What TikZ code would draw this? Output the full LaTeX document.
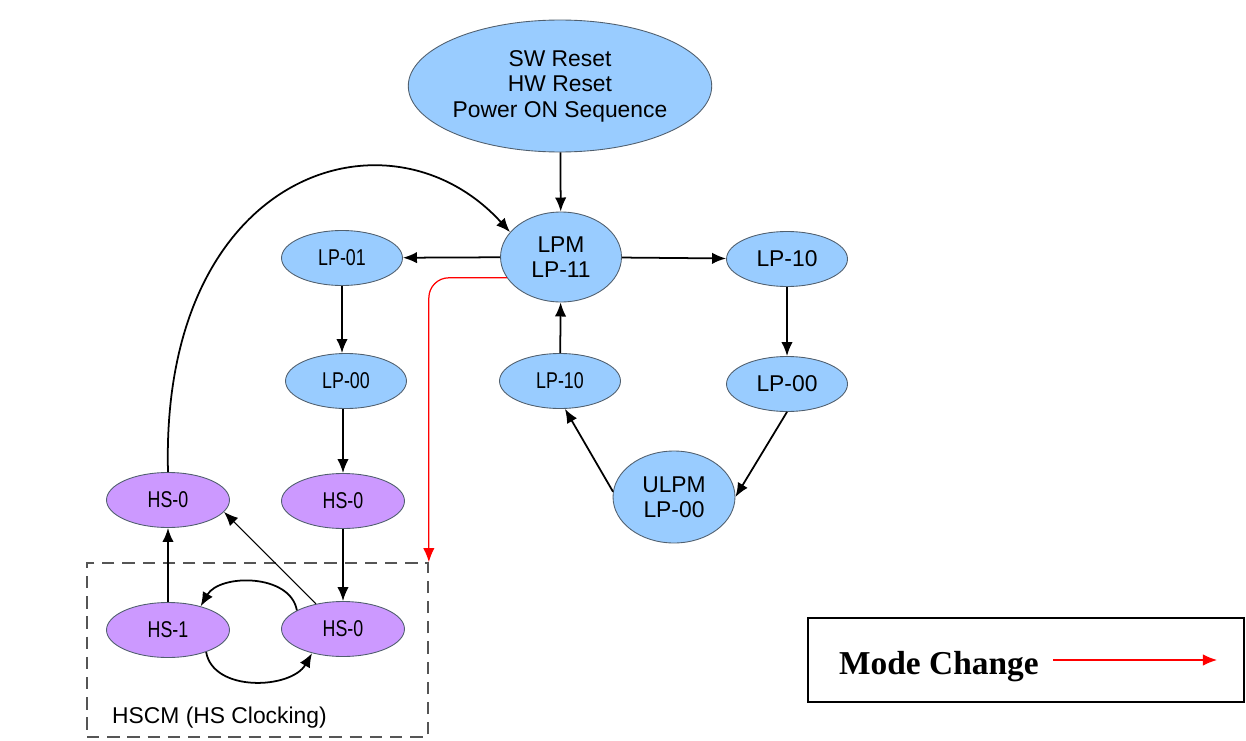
\documentclass[tikz,border=0pt]{standalone}
\usepackage{fontspec}
\setmainfont{Liberation Sans}
\newfontfamily\narrowfont{Liberation Sans}[FakeStretch=0.78]
\newfontfamily\legendfont{Liberation Serif}
\usetikzlibrary{shapes.geometric,arrows.meta}
\definecolor{lpblue}{RGB}{153,204,255}
\definecolor{hspurple}{RGB}{204,153,255}
\definecolor{rimgray}{RGB}{80,95,110}
\definecolor{boxgray}{RGB}{85,85,85}

\begin{document}
\begin{tikzpicture}[x=0.02cm,y=-0.02cm,>={Latex[length=8pt,width=6.5pt]},
        every node/.style={font=\fontsize{13}{14.5}\selectfont},
        lp/.style={ellipse,draw=rimgray,fill=lpblue,line width=0.5pt,inner sep=0pt,minimum width=2.42cm,minimum height=1.1cm},
        hs/.style={lp,fill=hspurple,minimum width=2.46cm},
        narrow/.style={font=\fontsize{13}{14.5}\narrowfont},
        link/.style={->,line width=1pt},
        modechange/.style={->,red,line width=0.7pt}]
    \useasboundingbox (0,0) rectangle (1246,740);

    \node [lp,minimum width=5.5cm,minimum height=2.64cm,align=center] (reset) at (560,86) {SW Reset\\HW Reset\\Power ON Sequence};
    \node [lp,minimum height=1.8cm,align=center] (lpm) at (561,257) {LPM\\LP-11};
    \node [lp,narrow] (lp01) at (342,258) {LP-01};
    \node [lp] (lp10r) at (787,259) {LP-10};
    \node [lp,narrow] (lp00l) at (346,381) {LP-00};
    \node [lp,narrow] (lp10m) at (560,381) {LP-10};
    \node [lp] (lp00r) at (787,384) {LP-00};
    \node [lp,minimum width=2.44cm,minimum height=1.84cm,align=center] (ulpm) at (674,497) {ULPM\\LP-00};
    \node [hs,narrow] (hs0a) at (168,500) {HS-0};
    \node [hs,narrow] (hs0r) at (343,501) {HS-0};
    \node [hs,narrow] (hs1) at (168,630) {HS-1};
    \node [hs,narrow] (hs0b) at (343,629) {HS-0};

    \node [draw=boxgray,dash pattern=on 7pt off 4.5pt,line width=1pt,minimum width=6.82cm,minimum height=3.48cm,inner sep=0pt] (hscm) at (257.5,650) {};
    \node [anchor=west] (hscmlabel) at (106,718) {HSCM (HS Clocking)};

    \draw [link] (reset) -- (lpm);
    \draw [link] (lpm) -- (lp01);
    \draw [link] (lpm) -- (lp10r);
    \draw [link] (lp01.south) -- (lp00l.north -| lp01.south);
    \draw [link] (lp00l.south -| hs0r.north) -- (hs0r.north);
    \draw [link] (hs0r) -- (hs0b);
    \draw [link] (lp10r) -- (lp00r);
    \draw [link] (lp00r.south) -- (ulpm.east);
    \draw [link] (ulpm.175) -- (lp10m.-80);
    \draw [link] (lp10m) -- (lpm);
    \draw [link] (hs1) -- (hs0a);
    \draw [link,line width=0.6pt] (hs0b.137) -- (hs0a.-12);
    \draw [link] (hs0b.158) to [out=100,in=60] (hs1.36);
    \draw [link] (hs1.-30) to [out=-80,in=-120] (hs0b.218);
    \draw [link] (hs0a.north) .. controls (160,170) and (390,100) .. (lpm.154);
    \draw [modechange,rounded corners=0.4cm] (lpm.201) -| (hscm.north east);

    \node [draw,line width=0.8pt,minimum width=8.72cm,minimum height=1.68cm,inner sep=0pt] (legend) at (1026,660) {};
    \node [anchor=west,font=\fontsize{19}{22}\legendfont\bfseries] (modelabel) at (833,667) {Mode Change};
    \coordinate (mcstart) at (1053,660);
    \coordinate (mcend) at (1217,660);
    \draw [modechange] (mcstart) -- (mcend);
\end{tikzpicture}
\end{document}
